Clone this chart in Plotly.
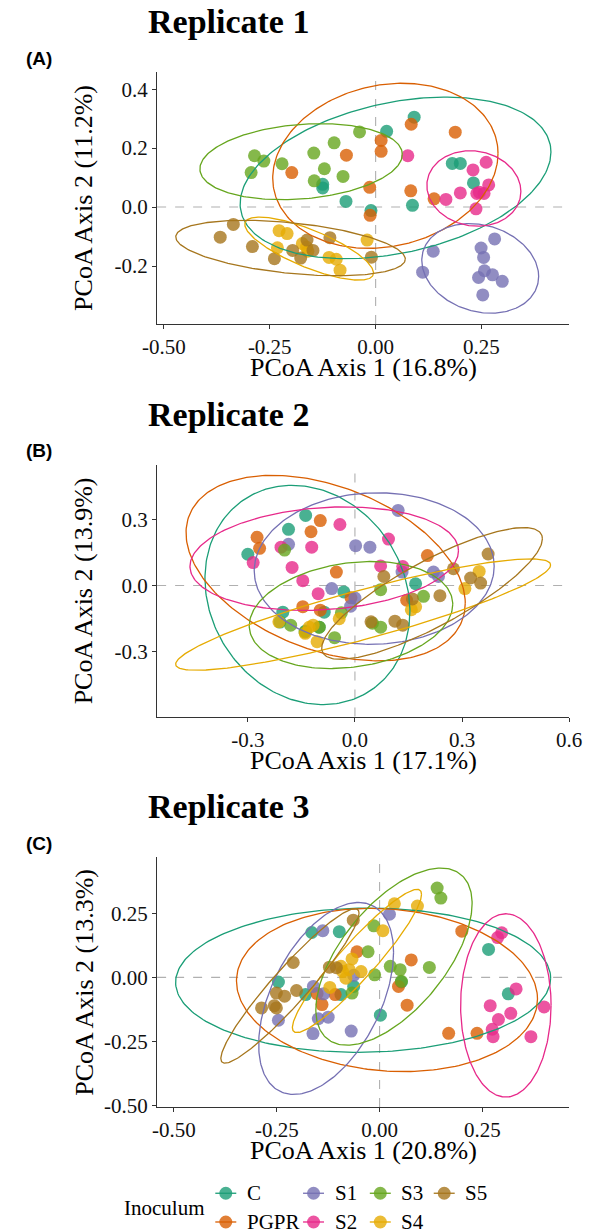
import numpy as np
import plotly.graph_objects as go

# ---------------- data ----------------
groups = ["C", "PGPR", "S1", "S2", "S3", "S4", "S5"]
group_colors = ["#1B9E77", "#D95F02", "#7570B3", "#E7298A", "#66A61E", "#E6AB02", "#A6761D"]

# Replicate 1 (PCoA axis 1 / axis 2 scores per inoculum)
rep1_pc1 = {
    "C":    [-0.125, -0.125, -0.070, -0.011, 0.026, 0.091, 0.087, 0.181, 0.200, 0.231],
    "PGPR": [-0.198, -0.069, -0.014, -0.013, 0.013, 0.013, 0.084, 0.083, 0.188, 0.138],
    "S1":   [0.136, 0.111, 0.249, 0.281, 0.255, 0.257, 0.243, 0.276, 0.299, 0.253],
    "S2":   [0.076, 0.166, 0.200, 0.230, 0.261, 0.267, 0.239, 0.256, 0.237, 0.245],
    "S3":   [-0.286, -0.264, -0.294, -0.221, -0.146, -0.098, -0.121, -0.145, -0.077, -0.038],
    "S4":   [-0.228, -0.209, -0.232, -0.173, -0.163, -0.110, -0.093, -0.084, -0.020, -0.160],
    "S5":   [-0.367, -0.336, -0.291, -0.239, -0.196, -0.177, -0.162, -0.148, -0.108, -0.010],
}
rep1_pc2 = {
    "C":    [0.077, 0.065, 0.019, -0.012, 0.257, 0.305, 0.006, 0.148, 0.148, 0.082],
    "PGPR": [0.117, 0.176, 0.067, -0.028, 0.226, 0.189, 0.281, 0.055, 0.254, 0.028],
    "S1":   [-0.150, -0.221, -0.139, -0.108, -0.171, -0.216, -0.239, -0.230, -0.252, -0.298],
    "S2":   [0.174, 0.026, 0.048, 0.126, 0.152, 0.075, 0.046, 0.046, -0.006, 0.050],
    "S3":   [0.174, 0.156, 0.117, 0.147, 0.183, 0.218, 0.130, 0.089, 0.104, 0.255],
    "S4":   [-0.080, -0.090, -0.138, -0.124, -0.136, -0.171, -0.177, -0.214, -0.112, -0.150],
    "S5":   [-0.102, -0.059, -0.134, -0.175, -0.147, -0.173, -0.112, -0.147, -0.104, -0.170],
}
# 95% ellipse summaries: centre x, centre y, half-range x, half-range y, tilt (cos of phase)
rep1_ellipses = {
    "C":    (0.047, 0.099, 0.367, 0.274, 0.32),
    "PGPR": (0.023, 0.140, 0.266, 0.280, 0.15),
    "S1":   (0.247, -0.208, 0.138, 0.152, -0.18),
    "S2":   (0.232, 0.063, 0.111, 0.128, -0.08),
    "S3":   (-0.176, 0.154, 0.239, 0.129, 0.19),
    "S4":   (-0.157, -0.141, 0.152, 0.107, -0.77),
    "S5":   (-0.201, -0.139, 0.271, 0.094, -0.40),
}

# Replicate 2
rep2_pc1 = {
    "C":    [-0.300, -0.186, -0.138, -0.202, -0.086, -0.100, -0.031, 0.170, -0.210, -0.138],
    "PGPR": [-0.274, -0.267, -0.097, -0.123, -0.052, -0.146, -0.097, -0.011, 0.203, 0.145],
    "S1":   [-0.186, 0.002, 0.042, -0.065, -0.012, 0.000, 0.121, 0.132, 0.220, 0.234],
    "S2":   [-0.285, -0.207, -0.176, -0.121, -0.042, -0.146, -0.103, 0.094, 0.072, 0.134],
    "S3":   [-0.197, -0.180, -0.140, -0.100, -0.057, -0.038, 0.072, 0.049, 0.072, 0.192],
    "S4":   [-0.213, -0.139, -0.117, -0.106, -0.044, 0.170, 0.308, 0.348, -0.128, 0.158],
    "S5":   [0.373, 0.276, 0.324, 0.352, 0.238, 0.081, 0.112, 0.134, 0.045, 0.161],
}
rep2_pc2 = {
    "C":    [0.142, 0.255, 0.318, -0.121, -0.121, -0.189, -0.029, 0.008, -0.166, -0.207],
    "PGPR": [0.219, 0.169, 0.295, 0.244, 0.061, -0.096, -0.112, -0.056, 0.136, -0.067],
    "S1":   [0.187, 0.181, 0.174, -0.014, -0.094, -0.057, 0.341, 0.061, 0.061, 0.041],
    "S2":   [0.104, 0.174, 0.082, 0.174, 0.277, 0.022, -0.037, 0.211, 0.089, 0.086],
    "S3":   [0.161, -0.180, -0.211, -0.189, -0.237, -0.124, -0.019, -0.171, -0.189, -0.049],
    "S4":   [-0.165, -0.217, -0.180, -0.255, -0.151, -0.097, -0.014, 0.064, -0.190, -0.110],
    "S5":   [0.143, 0.076, 0.034, 0.011, -0.046, 0.041, -0.162, -0.180, -0.165, -0.061],
}
rep2_ellipses = {
    "C":    (-0.133, -0.043, 0.287, 0.498, -0.15),
    "PGPR": (-0.082, 0.079, 0.391, 0.421, -0.38),
    "S1":   (0.054, 0.077, 0.336, 0.344, 0.03),
    "S2":   (-0.086, 0.122, 0.376, 0.235, 0.15),
    "S3":   (-0.011, -0.134, 0.285, 0.243, 0.20),
    "S4":   (0.023, -0.132, 0.525, 0.253, 0.89),
    "S5":   (0.216, -0.036, 0.309, 0.299, 0.83),
}

# Replicate 3
rep3_pc1 = {
    "C":    [-0.246, -0.165, -0.098, -0.180, -0.094, -0.063, 0.002, 0.053, 0.265, 0.313],
    "PGPR": [-0.140, -0.108, -0.055, -0.152, 0.077, 0.046, 0.067, 0.200, 0.168, 0.237],
    "S1":   [-0.138, 0.024, -0.246, -0.161, -0.136, -0.149, -0.125, -0.162, -0.069, -0.063],
    "S2":   [0.297, 0.287, 0.332, 0.400, 0.269, 0.319, 0.289, 0.274, 0.276, 0.368],
    "S3":   [-0.014, -0.028, -0.012, -0.067, 0.026, 0.050, 0.053, 0.121, 0.140, 0.149],
    "S4":   [0.036, 0.092, 0.008, -0.067, -0.094, -0.045, -0.082, -0.121, -0.074, -0.090],
    "S5":   [-0.064, -0.210, -0.122, -0.202, -0.251, -0.231, -0.287, -0.256, -0.251, -0.105],
}
rep3_pc2 = {
    "C":    [-0.018, 0.175, 0.178, -0.067, -0.067, -0.035, -0.147, -0.018, 0.109, -0.064],
    "PGPR": [-0.106, -0.067, 0.100, -0.063, 0.068, -0.035, -0.108, 0.180, -0.218, -0.218],
    "S1":   [0.182, 0.246, -0.167, -0.035, -0.064, -0.161, -0.155, -0.219, -0.209, 0.008],
    "S2":   [0.174, 0.155, -0.045, -0.115, -0.110, -0.140, -0.164, -0.202, -0.231, -0.231],
    "S3":   [0.201, 0.100, 0.010, -0.061, 0.043, 0.030, -0.015, 0.039, 0.348, 0.309],
    "S4":   [0.287, 0.278, 0.182, 0.072, 0.043, 0.023, -0.003, -0.039, 0.030, 0.023],
    "S5":   [0.223, 0.058, 0.040, -0.051, -0.061, -0.073, -0.119, -0.110, -0.119, 0.038],
}
rep3_ellipses = {
    "C":    (-0.040, -0.011, 0.456, 0.281, 0.03),
    "PGPR": (0.018, -0.049, 0.366, 0.318, -0.11),
    "S1":   (-0.130, -0.082, 0.164, 0.374, 0.48),
    "S2":   (0.307, -0.109, 0.110, 0.357, 0.00),
    "S3":   (0.035, 0.081, 0.190, 0.345, 0.60),
    "S4":   (-0.055, 0.064, 0.157, 0.279, 0.93),
    "S5":   (-0.218, -0.033, 0.168, 0.301, 0.94),
}

titles = ["Replicate 1", "Replicate 2", "Replicate 3"]
panel_tags = ["(A)", "(B)", "(C)"]
x_titles = ["PCoA Axis 1 (16.8%)", "PCoA Axis 1 (17.1%)", "PCoA Axis 1 (20.8%)"]
y_titles = ["PCoA Axis 2 (11.2%)", "PCoA Axis 2 (13.9%)", "PCoA Axis 2 (13.3%)"]

x_tickvals = [[-0.5, -0.25, 0.0, 0.25], [-0.3, 0.0, 0.3, 0.6], [-0.5, -0.25, 0.0, 0.25]]
x_ticktext = [["-0.50", "-0.25", "0.00", "0.25"], ["-0.3", "0.0", "0.3", "0.6"], ["-0.50", "-0.25", "0.00", "0.25"]]
y_tickvals = [[-0.2, 0.0, 0.2, 0.4], [-0.3, 0.0, 0.3], [-0.5, -0.25, 0.0, 0.25]]
y_ticktext = [["-0.2", "0.0", "0.2", "0.4"], ["-0.3", "0.0", "0.3"], ["-0.50", "-0.25", "0.00", "0.25"]]
x_ranges = [[-0.516, 0.457], [-0.554, 0.600], [-0.541, 0.461]]
y_ranges = [[-0.397, 0.457], [-0.595, 0.548], [-0.505, 0.468]]

legend_title = "Inoculum"

# ---------------- layout constants ----------------
W, H = 606, 1232
panel_left, panel_right = 149, 581
panel_tops = [73, 469, 865]
panel_bottoms = [327, 723, 1117]
SERIF = "Liberation Serif"
SANS = "Liberation Sans"
AXIS_COLOR = "#333333"

def px_x(p):
    return p / W

def px_y(p):
    return 1 - p / H

fig = go.Figure()
reps = [(rep1_pc1, rep1_pc2, rep1_ellipses), (rep2_pc1, rep2_pc2, rep2_ellipses), (rep3_pc1, rep3_pc2, rep3_ellipses)]
t = np.linspace(0, 2 * np.pi, 241)

for i, (pc1, pc2, ells) in enumerate(reps):
    xa = "x" if i == 0 else f"x{i+1}"
    ya = "y" if i == 0 else f"y{i+1}"
    # points
    for g, col in zip(groups, group_colors):
        fig.add_trace(go.Scatter(
            x=pc1[g], y=pc2[g], mode="markers", xaxis=xa, yaxis=ya,
            marker=dict(color=col, size=13, opacity=0.8, line=dict(width=0)),
            showlegend=False, name=g, cliponaxis=False))
    # ellipses
    for g, col in zip(groups, group_colors):
        cx, cy, rx, ry, k = ells[g]
        phi = np.arccos(k)
        ex = cx + rx * np.cos(t)
        ey = cy + ry * np.cos(t + phi)
        fig.add_trace(go.Scatter(
            x=ex, y=ey, mode="lines", xaxis=xa, yaxis=ya,
            line=dict(color=col, width=1.3), showlegend=False, name=g,
            hoverinfo="skip", cliponaxis=False))

    axis_base = dict(showline=True, linecolor=AXIS_COLOR, linewidth=1.4, ticks="outside",
                     ticklen=4, tickwidth=1.2, tickcolor=AXIS_COLOR, showgrid=False,
                     zeroline=False, tickfont=dict(family=SERIF, size=21, color="#111111"))
    dom_x = [px_x(panel_left), px_x(panel_right)]
    dom_y = [px_y(panel_bottoms[i]), px_y(panel_tops[i])]
    xkey = "xaxis" if i == 0 else f"xaxis{i+1}"
    ykey = "yaxis" if i == 0 else f"yaxis{i+1}"
    fig.update_layout({
        xkey: dict(axis_base, domain=dom_x, range=x_ranges[i], tickvals=x_tickvals[i],
                   ticktext=x_ticktext[i], anchor=ya),
        ykey: dict(axis_base, domain=dom_y, range=y_ranges[i], tickvals=y_tickvals[i],
                   ticktext=y_ticktext[i], anchor=xa),
    })
    # dashed reference lines at 0
    xref_dom = f"{xa} domain"
    yref_dom = f"{ya} domain"
    fig.add_shape(type="line", xref=xa, yref=yref_dom, x0=0, x1=0, y0=0, y1=1,
                  line=dict(color="#B0B0B0", width=1.1, dash="dash"), layer="below")
    fig.add_shape(type="line", xref=xref_dom, yref=ya, x0=0, x1=1, y0=0, y1=0,
                  line=dict(color="#B0B0B0", width=1.1, dash="dash"), layer="below")
    # titles and labels
    fig.add_annotation(text=f"<b>{titles[i]}</b>", xref="paper", yref="paper",
                       x=px_x(137), y=px_y(panel_tops[i] - 51), xanchor="left", yanchor="middle",
                       showarrow=False, font=dict(family=SERIF, size=34, color="black"))
    fig.add_annotation(text=f"<b>{panel_tags[i]}</b>", xref="paper", yref="paper",
                       x=px_x(9), y=px_y(panel_tops[i] - 14), xanchor="left", yanchor="middle",
                       showarrow=False, font=dict(family=SANS, size=19, color="black"))
    fig.add_annotation(text=x_titles[i], xref="paper", yref="paper",
                       x=px_x((panel_left + panel_right) / 2), y=px_y(panel_bottoms[i] + 44),
                       xanchor="center", yanchor="middle", showarrow=False,
                       font=dict(family=SERIF, size=26, color="black"))
    fig.add_annotation(text=y_titles[i], xref="paper", yref="paper", textangle=-90,
                       x=px_x(72), y=px_y((panel_tops[i] + panel_bottoms[i]) / 2),
                       xanchor="center", yanchor="middle", showarrow=False,
                       font=dict(family=SERIF, size=26, color="black"))

# ---------------- legend (keys drawn as paper shapes) ----------------
legend_col_x = [221, 313, 383, 450]
legend_row_y = [1204, 1233]
for j, (g, col) in enumerate(zip(groups, group_colors)):
    kx = legend_col_x[j // 2]
    ky = legend_row_y[j % 2]
    fig.add_shape(type="line", xref="paper", yref="paper",
                  x0=px_x(kx - 11), x1=px_x(kx + 11), y0=px_y(ky), y1=px_y(ky),
                  line=dict(color=col, width=1.3))
    fig.add_shape(type="circle", xref="paper", yref="paper",
                  xsizemode="pixel", ysizemode="pixel",
                  xanchor=px_x(kx), yanchor=px_y(ky), x0=-6.5, x1=6.5, y0=-6.5, y1=6.5,
                  fillcolor=col, opacity=0.8, line=dict(width=0))
    fig.add_annotation(text=g, xref="paper", yref="paper", x=px_x(kx + 20), y=px_y(ky),
                       xanchor="left", yanchor="middle", showarrow=False,
                       font=dict(family=SERIF, size=21, color="black"))
fig.add_annotation(text=legend_title, xref="paper", yref="paper", x=px_x(112), y=px_y(1219),
                   xanchor="left", yanchor="middle", showarrow=False,
                   font=dict(family=SERIF, size=21, color="black"))

fig.update_layout(
    width=W, height=H, margin=dict(l=0, r=0, t=0, b=0),
    paper_bgcolor="white", plot_bgcolor="white", showlegend=False,
)

fig.write_html("out.html", config={"displayModeBar": False},
               post_script="document.body.style.margin='0';document.body.style.overflow='hidden';")
